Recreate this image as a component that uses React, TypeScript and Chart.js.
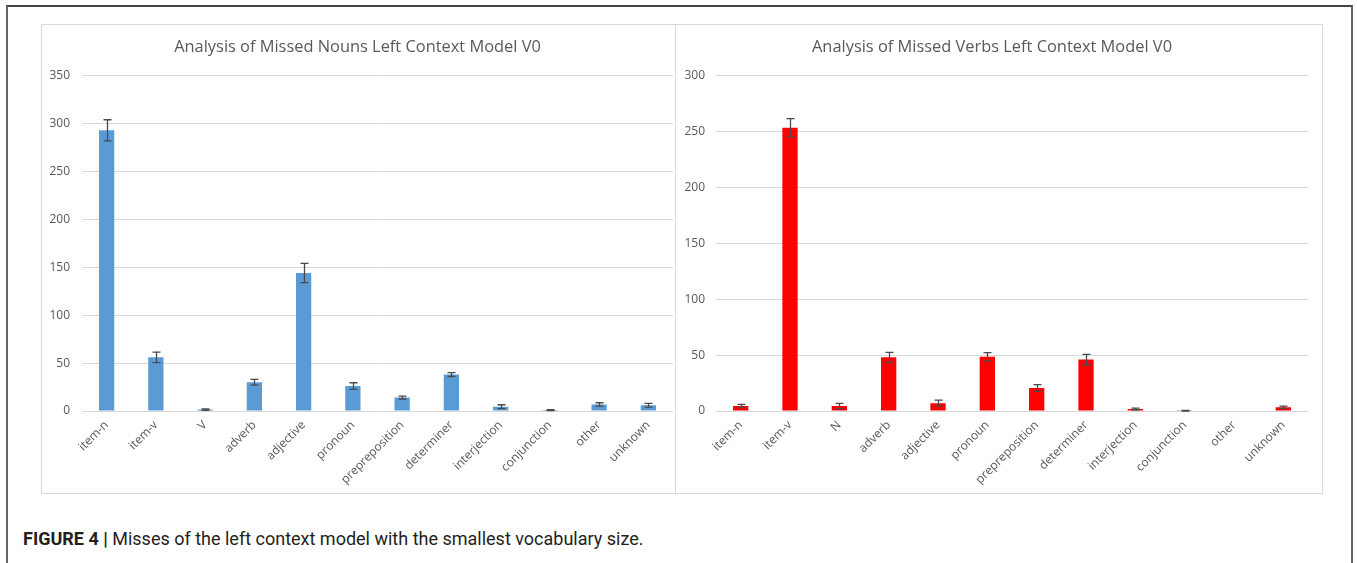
import React, { useEffect, useRef } from "react";
import { Chart, registerables } from "chart.js";

Chart.register(...registerables);

const nounCategories = ["item-n", "item-v", "V", "adverb", "adjective", "pronoun", "prepreposition", "determiner", "interjection", "conjunction", "other", "unknown"];
const nounValues = [293, 56, 1.5, 30, 144, 26, 14, 38, 4.5, 1, 6.8, 6];
const nounErrors = [11, 5.5, 0.8, 3, 10, 3.5, 1.5, 2, 2, 0.5, 1.8, 2];

const verbCategories = ["item-n", "item-v", "N", "adverb", "adjective", "pronoun", "prepreposition", "determiner", "interjection", "conjunction", "other", "unknown"];
const verbValues = [4.5, 253.5, 4.5, 48, 7, 48.5, 20.6, 46, 1.8, 0.3, 0, 3.3];
const verbErrors = [1.5, 8, 2.3, 4.5, 2.7, 3.7, 3, 4.6, 0.7, 0.3, 0, 1];

const nounTitle = "Analysis of Missed Nouns Left Context Model V0";
const verbTitle = "Analysis of Missed Verbs Left Context Model V0";
const nounTicks = { max: 350, step: 50 };
const verbTicks = { max: 300, step: 50 };

const FONT = "'Open Sans', 'Noto Sans', sans-serif";

const errorBarPlugin = {
  id: "errorBars",
  afterDatasetsDraw(chart: any, _args: any, opts: any) {
    const errs: number[] = opts.errors || [];
    const ctx = chart.ctx;
    const meta = chart.getDatasetMeta(0);
    const yScale = chart.scales.y;
    const vals = chart.data.datasets[0].data as number[];
    ctx.save();
    ctx.strokeStyle = "#4a4a4a";
    ctx.lineWidth = 1.3;
    meta.data.forEach((bar: any, i: number) => {
      const e = errs[i];
      if (!e) return;
      const v = vals[i];
      const x = Math.round(bar.x) + 0.5;
      const yt = yScale.getPixelForValue(v + e);
      const yb = yScale.getPixelForValue(Math.max(0, v - e));
      const cap = 4;
      ctx.beginPath();
      ctx.moveTo(x, yt);
      ctx.lineTo(x, yb);
      ctx.moveTo(x - cap, yt);
      ctx.lineTo(x + cap, yt);
      ctx.moveTo(x - cap, yb);
      ctx.lineTo(x + cap, yb);
      ctx.stroke();
    });
    ctx.restore();
  },
};

type Props = {
  labels: string[];
  values: number[];
  errors: number[];
  color: string;
  title: string;
  max: number;
  step: number;
  width: number;
  height: number;
  yAxisWidth: number;
  padRight: number;
  tickPad: number;
};

function BarChart(p: Props) {
  const ref = useRef<HTMLCanvasElement | null>(null);
  useEffect(() => {
    if (!ref.current) return;
    const chart = new Chart(ref.current, {
      type: "bar",
      data: {
        labels: p.labels,
        datasets: [
          {
            data: p.values,
            backgroundColor: p.color,
            borderWidth: 0,
            barPercentage: 0.31,
            categoryPercentage: 1,
          },
        ],
      },
      plugins: [errorBarPlugin as any],
      options: {
        responsive: false,
        animation: false,
        devicePixelRatio: 1,
        layout: { padding: { left: 0, right: p.padRight, top: 0, bottom: 0 } },
        plugins: {
          legend: { display: false },
          tooltip: { enabled: false },
          title: {
            display: true,
            text: p.title,
            color: "#595959",
            font: { family: FONT, size: 16.4, weight: "normal", lineHeight: 1.2 },
            padding: { top: 13, bottom: 19 },
          },
          errorBars: { errors: p.errors },
        } as any,
        scales: {
          x: {
            grid: { display: false, drawTicks: false },
            border: { display: false },
            ticks: {
              color: "#595959",
              font: { family: FONT, size: 12 },
              minRotation: 45,
              maxRotation: 45,
              autoSkip: false,
              padding: 7,
            },
            afterFit: (s: any) => {
              s.height = 82;
            },
          },
          y: {
            min: 0,
            max: p.max,
            grid: { color: "#d9d9d9", lineWidth: 1, drawTicks: false },
            border: { display: false },
            ticks: {
              stepSize: p.step,
              color: "#595959",
              font: { family: FONT, size: 12 },
              padding: p.tickPad,
            },
            afterFit: (s: any) => {
              s.width = p.yAxisWidth;
            },
          },
        },
      },
    });
    return () => chart.destroy();
  }, []);
  return <canvas ref={ref} width={p.width} height={p.height} style={{ display: "block" }} />;
}

export default function App() {
  return (
    <div style={{ position: "absolute", left: 0, top: 0, width: 1357, height: 563, background: "#fff", overflow: "hidden" }}>
      <div
        style={{
          position: "absolute",
          left: 6,
          top: 5,
          width: 1347,
          height: 600,
          borderLeft: "2px solid #666",
          borderRight: "2px solid #666",
          borderTop: "2px solid #444",
          boxSizing: "border-box",
        }}
      />
      <div
        style={{
          position: "absolute",
          left: 41,
          top: 24,
          width: 1282,
          height: 470,
          border: "1px solid #d9d9d9",
          boxSizing: "border-box",
        }}
      />
      <div style={{ position: "absolute", left: 675, top: 24, width: 1, height: 470, background: "#d9d9d9" }} />
      <div style={{ position: "absolute", left: 42, top: 24 }}>
        <BarChart
          labels={nounCategories}
          values={nounValues}
          errors={nounErrors}
          color="#5b9bd5"
          title={nounTitle}
          max={nounTicks.max}
          step={nounTicks.step}
          width={633}
          height={469}
          yAxisWidth={40}
          padRight={2}
          tickPad={12}
        />
      </div>
      <div style={{ position: "absolute", left: 676, top: 24 }}>
        <BarChart
          labels={verbCategories}
          values={verbValues}
          errors={verbErrors}
          color="#ff0000"
          title={verbTitle}
          max={verbTicks.max}
          step={verbTicks.step}
          width={646}
          height={469}
          yAxisWidth={40}
          padRight={14}
          tickPad={11}
        />
      </div>
      <div
        style={{
          position: "absolute",
          left: 23,
          top: 528,
          fontFamily: "Roboto, 'Liberation Sans', sans-serif",
          fontSize: 18,
          color: "#231f20",
          whiteSpace: "nowrap",
        }}
      >
        <b>FIGURE 4 |</b> Misses of the left context model with the smallest vocabulary size.
      </div>
    </div>
  );
}
